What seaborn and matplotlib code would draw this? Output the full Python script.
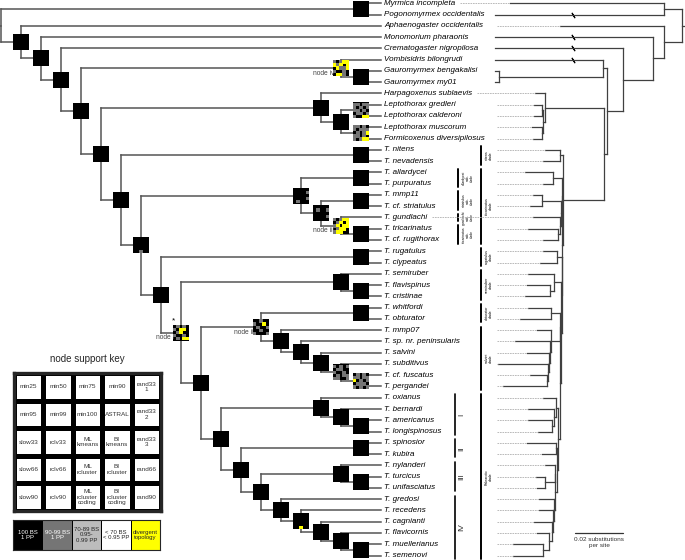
import numpy as np
import pandas as pd
import matplotlib.pyplot as plt
import seaborn as sns
from matplotlib.colors import ListedColormap

# ---- data -------------------------------------------------------------
taxa = ['Myrmica incompleta', 'Pogonomyrmex occidentalis', 'Aphaenogaster occidentalis',
        'Monomorium pharaonis', 'Crematogaster nigropilosa', 'Vombisidris bilongrudi',
        'Gauromyrmex bengakalisi', 'Gauromyrmex my01', 'Harpagoxenus sublaevis',
        'Leptothorax gredleri', 'Leptothorax calderoni', 'Leptothorax muscorum',
        'Formicoxenus diversipilosus', 'T. nitens', 'T. nevadensis', 'T. allardycei',
        'T. purpuratus', 'T. mmp11', 'T. cf. striatulus', 'T. gundlachi', 'T. tricarinatus',
        'T. cf. rugithorax', 'T. rugatulus', 'T. clypeatus', 'T. semiruber', 'T. flavispinus',
        'T. cristinae', 'T. whitfordi', 'T. obturator', 'T. mmp07', 'T. sp. nr. peninsularis',
        'T. salvini', 'T. subditivus', 'T. cf. fuscatus', 'T. pergandei', 'T. oxianus',
        'T. bernardi', 'T. americanus', 'T. longispinosus', 'T. spinosior', 'T. kubira',
        'T. nylanderi', 'T. turcicus', 'T. unifasciatus', 'T. gredosi', 'T. recedens',
        'T. cagnianti', 'T. flavicornis', 'T. muellerianus', 'T. semenovi']

# distance from root (substitutions/site) in the ML phylogram
tip_depth = [0.0717, 0.0779, 0.0508, 0.0779, 0.0779, 0.0779, 0.0779, 0.0779, 0.0613,
             0.0617, 0.0617, 0.0625, 0.0621, 0.0571, 0.0579, 0.0654, 0.0579, 0.0621,
             0.0633, 0.0621, 0.0642, 0.0579, 0.0579, 0.0592, 0.0642, 0.0646, 0.0654,
             0.0642, 0.0675, 0.0604, 0.0696, 0.0646, 0.0767, 0.0633, 0.0746, 0.0579,
             0.0642, 0.0642, 0.0600, 0.0646, 0.0583, 0.0571, 0.0608, 0.0604, 0.0596,
             0.0596, 0.0617, 0.0604, 0.0704, 0.0704]
truncated = ['Pogonomyrmex occidentalis', 'Monomorium pharaonis',
             'Crematogaster nigropilosa', 'Vombisidris bilongrudi']

node_names = ['n_myr', 'n_gaur', 'n_vomb', 'n_gc', 'n_mf', 'n_lep', 'n_harp', 'n_nit',
              'n_ap', 'n_ms', 'n_tr', 'n_iii', 'n_t2', 'n_t1', 'n_rc', 'n_fc', 'n_sem',
              'n_wo', 'n_fp', 'n_sub', 'n_sal', 'n_pen', 'n_mmp', 'n_ii', 'n_al', 'n_be',
              'n_I', 'n_II', 'n_tu', 'n_III', 'n_ms2', 'n_fl', 'n_ca', 'n_re', 'n_gr',
              'n_p3', 'n_p2', 'n_pal', 'n_p0', 'n_i', 'n_t4', 'n_t3', 'n_tem', 'n_a5',
              'n_a4', 'n_a3', 'n_a2', 'n_a1', 'root']
node_kids = [('Myrmica incompleta', 'Pogonomyrmex occidentalis'),
             ('Gauromyrmex bengakalisi', 'Gauromyrmex my01'),
             ('Vombisidris bilongrudi', 'n_gaur'),
             ('Leptothorax gredleri', 'Leptothorax calderoni'),
             ('Leptothorax muscorum', 'Formicoxenus diversipilosus'),
             ('n_gc', 'n_mf'),
             ('Harpagoxenus sublaevis', 'n_lep'),
             ('T. nitens', 'T. nevadensis'),
             ('T. allardycei', 'T. purpuratus'),
             ('T. mmp11', 'T. cf. striatulus'),
             ('T. tricarinatus', 'T. cf. rugithorax'),
             ('T. gundlachi', 'n_tr'),
             ('n_ms', 'n_iii'),
             ('n_ap', 'n_t2'),
             ('T. rugatulus', 'T. clypeatus'),
             ('T. flavispinus', 'T. cristinae'),
             ('T. semiruber', 'n_fc'),
             ('T. whitfordi', 'T. obturator'),
             ('T. cf. fuscatus', 'T. pergandei'),
             ('T. subditivus', 'n_fp'),
             ('T. salvini', 'n_sub'),
             ('T. sp. nr. peninsularis', 'n_sal'),
             ('T. mmp07', 'n_pen'),
             ('n_wo', 'n_mmp'),
             ('T. americanus', 'T. longispinosus'),
             ('T. bernardi', 'n_al'),
             ('T. oxianus', 'n_be'),
             ('T. spinosior', 'T. kubira'),
             ('T. turcicus', 'T. unifasciatus'),
             ('T. nylanderi', 'n_tu'),
             ('T. muellerianus', 'T. semenovi'),
             ('T. flavicornis', 'n_ms2'),
             ('T. cagnianti', 'n_fl'),
             ('T. recedens', 'n_ca'),
             ('T. gredosi', 'n_re'),
             ('n_III', 'n_gr'),
             ('n_II', 'n_p3'),
             ('n_I', 'n_p2'),
             ('n_ii', 'n_pal'),
             ('n_sem', 'n_p0'),
             ('n_rc', 'n_i'),
             ('n_t1', 'n_t4'),
             ('n_nit', 'n_t3'),
             ('n_harp', 'n_tem'),
             ('n_vomb', 'n_a5'),
             ('Crematogaster nigropilosa', 'n_a4'),
             ('Monomorium pharaonis', 'n_a3'),
             ('Aphaenogaster occidentalis', 'n_a2'),
             ('n_myr', 'n_a1')]
node_depth = [0.0075, 0.0763, 0.0329, 0.0583, 0.0583, 0.0579, 0.0571, 0.0508, 0.0538,
              0.0583, 0.0517, 0.0508, 0.0504, 0.0502, 0.0521, 0.0550, 0.0533, 0.0546,
              0.0563, 0.0558, 0.0554, 0.0550, 0.0546, 0.0510, 0.0542, 0.0533, 0.0525,
              0.0523, 0.0571, 0.0531, 0.0579, 0.0554, 0.0542, 0.0538, 0.0533, 0.0529,
              0.0521, 0.0517, 0.0508, 0.0504, 0.0502, 0.0500, 0.0496, 0.0325, 0.0313,
              0.0246, 0.0121, 0.0075, 0.0]

# support of the 25 analyses at nodes that are not fully supported
# (k 100, g 90-99, l 70-89, w <70, y divergent), row by row as in the key
mixed_nodes = ['n_vomb', 'n_gc', 'n_mf', 'n_t1', 'n_t2', 'n_iii', 'n_t3', 'n_i',
               'n_ii', 'n_sub', 'n_fp', 'n_re']
mixed_cells = ['gkgyyygykykyggygkkgkkyygk', 'ggkgggkgkgggkgkkggkggkkyy',
               'ggkgkgkgggkgkgyggkgkgkgyy', 'kkkkkkkkkgkkkkkkkkkgkgkkk',
               'kkkkkkgkkgkkkkkkkkkgkkkkk', 'gkgyykgykygykyykgyykgyykk',
               'kkkkkkkkkkkkkkkkkkkkkkgkk', 'kgkgkgkyykkgykkgkkgkkgkyy',
               'kkgkkgkkykkgkkgkkgkkgkkkg', 'gkgkgkggkkgkkgkkgkggggkkg',
               'kgkgkggkggykgkgkgggkgkgkg', 'kkkkkkkkkkkkkkkkkkkkkkykk']
support_classes = ['k', 'g', 'l', 'w', 'y']
support_colors = ['#000000', '#757575', '#bcbcbc', '#ffffff', '#ffff00']
support_labels = ['100 BS\n1 PP', '90-99 BS\n1 PP', '70-89 BS\n0.95-\n0.99 PP',
                  '< 70 BS\n< 0.95 PP', 'divergent\ntopology']

key_labels = [['min25', 'min50', 'min75', 'min90', 'rand33\n1'],
              ['min95', 'min99', 'min100', 'ASTRAL', 'rand33\n2'],
              ['slow33', 'rclv33', 'ML\nkmeans', 'BI\nkmeans', 'rand33\n3'],
              ['slow66', 'rclv66', 'ML\nrcluster', 'BI\nrcluster', 'rand66'],
              ['slow90', 'rclv90', 'ML\nrcluster\ncoding', 'BI\nrcluster\ncoding', 'rand90']]

tag_nodes = ['n_vomb', 'n_iii', 'n_ii', 'n_i']
tag_text = ['node iv', 'node iii', 'node ii', 'node i']

clade_first = ['T. nitens', 'T. allardycei', 'T. allardycei', 'T. mmp11', 'T. gundlachi',
               'T. tricarinatus', 'T. rugatulus', 'T. semiruber', 'T. whitfordi', 'T. mmp07',
               'T. oxianus']
clade_last = ['T. nevadensis', 'T. cf. rugithorax', 'T. purpuratus', 'T. cf. striatulus',
              'T. gundlachi', 'T. cf. rugithorax', 'T. clypeatus', 'T. cristinae',
              'T. obturator', 'T. pergandei', 'T. semenovi']
clade_text = ['nitens\nclade', 'tricarinatus\nclade', 'allardycei\nsub-\nclade',
              'striatulus\nsub-\nclade', 'gundlachi\nsub-\nclade', 'tricarinatus\nsub-\nclade',
              'rugatulus\nclade', 'semiruber\nclade', 'obturator\nclade', 'salvini\nclade',
              'Palearctic\nclade']
clade_inner = [False, False, True, True, True, True, False, False, False, False, False]

roman_first = ['T. oxianus', 'T. spinosior', 'T. nylanderi', 'T. gredosi']
roman_last = ['T. longispinosus', 'T. kubira', 'T. unifasciatus', 'T. semenovi']
roman_text = ['I', 'II', 'III', 'IV']

early_leaders = ['Myrmica incompleta', 'Harpagoxenus sublaevis', 'T. gundlachi']

# ---- layout constants (pixels) ----------------------------------------
W, H = 685, 560
top_px, row_px = 3.3, 11.27
leaf_px, step_px = 381, 20
root_px, px_per_sub = 682, 2400
leader_start = (root_px - 497) / px_per_sub

sns.set_style('white')
plt.rcParams['font.family'] = ['Liberation Sans', 'DejaVu Sans']

fig = plt.figure(figsize=(W / 100, H / 100), dpi=100)
ax = fig.add_axes([0, 0, 1, 1])
ax_phy = fig.add_axes([0, 0, 1, 1], sharey=ax)
ax_phy.patch.set_alpha(0)
ax.set_xlim(0, W)
ax.set_ylim((H - top_px) / row_px, -top_px / row_px)
ax_phy.set_xlim(root_px / px_per_sub, (root_px - W) / px_per_sub)

# ---- tree geometry ------------------------------------------------------
ypos = {t: i for i, t in enumerate(taxa)}
height = {t: 0 for t in taxa}
depth = dict(zip(taxa, tip_depth))
for name, kids, d in zip(node_names, node_kids, node_depth):
    height[name] = 1 + max(height[k] for k in kids)
    ypos[name] = (ypos[kids[0]] + ypos[kids[-1]]) / 2
    depth[name] = d
xclad = {n: leaf_px - step_px * h for n, h in height.items()}


def segments(xmap):
    rows = []
    for name, kids in zip(node_names, node_kids):
        xn = xmap[name]
        rows += [(name + '|v', xn, ypos[kids[0]]), (name + '|v', xn, ypos[kids[-1]])]
        for k in kids:
            rows += [(k + '|h', xn, ypos[k]), (k + '|h', xmap[k], ypos[k])]
    return pd.DataFrame(rows, columns=['seg', 'x', 'y'])


clad = segments(xclad)
stub = pd.DataFrame([('root|s', xclad['root'] - 4, ypos['root']),
                     ('root|s', xclad['root'], ypos['root'])], columns=['seg', 'x', 'y'])
clad = pd.concat([clad, stub])
sns.lineplot(data=clad, x='x', y='y', units='seg', estimator=None, sort=False,
             color='#555555', linewidth=1.1, solid_capstyle='projecting', ax=ax)

phy = segments(depth)
stub = pd.DataFrame([('root|s', depth['root'], ypos['root']),
                     ('root|s', -3 / px_per_sub, ypos['root'])], columns=['seg', 'x', 'y'])
phy = pd.concat([phy, stub])
sns.lineplot(data=phy, x='x', y='y', units='seg', estimator=None, sort=False,
             color='#404040', linewidth=0.9, solid_capstyle='projecting', ax=ax_phy)

# node squares
inner = pd.DataFrame({'x': [xclad[n] for n in node_names[:-1]],
                      'y': [ypos[n] for n in node_names[:-1]]})
sns.scatterplot(data=inner, x='x', y='y', marker='s', s=133, color='black',
                linewidth=0, zorder=3, ax=ax)
cells = []
for n, pat in zip(mixed_nodes, mixed_cells):
    for idx, c in enumerate(pat):
        if c != 'k':
            r, col = divmod(idx, 5)
            cells.append((xclad[n] + (col - 2) * 3.1, ypos[n] + (r - 2) * 3.1 / row_px, c))
cells = pd.DataFrame(cells, columns=['x', 'y', 'cls'])
sns.scatterplot(data=cells, x='x', y='y', hue='cls', marker='s', s=5.5, linewidth=0,
                palette=dict(zip(support_classes, support_colors)), legend=False,
                zorder=4, ax=ax)

for n, t in zip(tag_nodes, tag_text):
    ax.text(xclad[n] - 7, ypos[n] + 5 / row_px, t, ha='right', va='center',
            fontsize=4.8, color='#444444')
ax.text(xclad['n_i'] - 7, ypos['n_i'] - 12 / row_px, '*', ha='center', va='center',
        fontsize=6, color='black')

# taxon labels
labels = {}
for i, t in enumerate(taxa):
    labels[t] = ax.text(leaf_px + 3, i, t, ha='left', va='center', fontsize=5.8,
                        style='italic', color='black')

# clade bars
for f, l, txt, inn in zip(clade_first, clade_last, clade_text, clade_inner):
    bx, tx, fs = (458, 468, 2.4) if inn else (481, 489, 2.6)
    y0, y1 = ypos[f] - 0.32, ypos[l] + 0.32
    ax.plot([bx, bx], [y0, y1], color='black', lw=1.4)
    ax.text(tx, (y0 + y1) / 2, txt, rotation=90, ha='center', va='center',
            fontsize=fs, linespacing=1.0, color='black')
for f, l, txt in zip(roman_first, roman_last, roman_text):
    y0, y1 = ypos[f] - 0.3, ypos[l] + 0.3
    ax.plot([455, 455], [y0, y1], color='black', lw=1.2)
    ax.text(462, (y0 + y1) / 2, txt, rotation=90, ha='center', va='center',
            fontsize=6, color='#333333')

# dotted leaders in the phylogram
fig.canvas.draw()
renderer = fig.canvas.get_renderer()
lead = []
for t in taxa:
    start = leader_start
    if t in early_leaders:
        x1 = labels[t].get_window_extent(renderer).x1 + 5
        start = ax_phy.transData.inverted().transform((x1, 0))[0]
    if depth[t] < start:
        lead += [(t, start, ypos[t]), (t, depth[t], ypos[t])]
lead = pd.DataFrame(lead, columns=['seg', 'x', 'y'])
sns.lineplot(data=lead, x='x', y='y', units='seg', estimator=None, sort=False,
             color='#b0b0b0', linewidth=0.6, linestyle=(0, (2, 1)), ax=ax_phy)

brk = pd.DataFrame({'x': [(root_px - 573) / px_per_sub] * len(truncated),
                    'y': [ypos[t] for t in truncated]})
sns.scatterplot(data=brk, x='x', y='y', marker=(2, 2, 30), s=14, color='black',
                linewidth=0.8, ax=ax_phy)

# scale bar
sb_y = (533 - top_px) / row_px
sb_x0 = (root_px - 575) / px_per_sub
ax_phy.plot([sb_x0, sb_x0 - 0.02], [sb_y, sb_y], color='#333333', lw=0.9)
ax_phy.text(sb_x0 - 0.01, sb_y + 0.35, '0.02 substitutions\nper site', ha='center',
            va='top', fontsize=4.6, color='#333333', linespacing=1.3)

for a in (ax, ax_phy):
    a.set_axis_off()

# ---- node support key -----------------------------------------------------
fig.text(87 / W, 1 - 359 / H, 'node support key', ha='center', va='center', fontsize=7)
ax_key = fig.add_axes([14 / W, 1 - 511 / H, 147 / W, 138 / H])
sns.heatmap(np.zeros((5, 5)), cmap=ListedColormap(['white']), cbar=False,
            annot=np.array(key_labels), fmt='', linewidths=2.4, linecolor='black',
            annot_kws=dict(fontsize=4.6, color='#333333', linespacing=1.1),
            xticklabels=False, yticklabels=False, ax=ax_key)
for s in ax_key.spines.values():
    s.set_visible(True)
    s.set_linewidth(2.4)

ax_leg = fig.add_axes([13 / W, 1 - 550 / H, 147 / W, 30 / H])
sns.heatmap(np.arange(5).reshape(1, 5), cmap=ListedColormap(support_colors), cbar=False,
            annot=np.array([support_labels]), fmt='', linewidths=0.4, linecolor='black',
            annot_kws=dict(fontsize=4.3, linespacing=1.1), vmin=-0.5, vmax=4.5,
            xticklabels=False, yticklabels=False, ax=ax_leg)
for s in ax_leg.spines.values():
    s.set_visible(True)
    s.set_linewidth(0.8)

fig.savefig('out.png', dpi=100)
